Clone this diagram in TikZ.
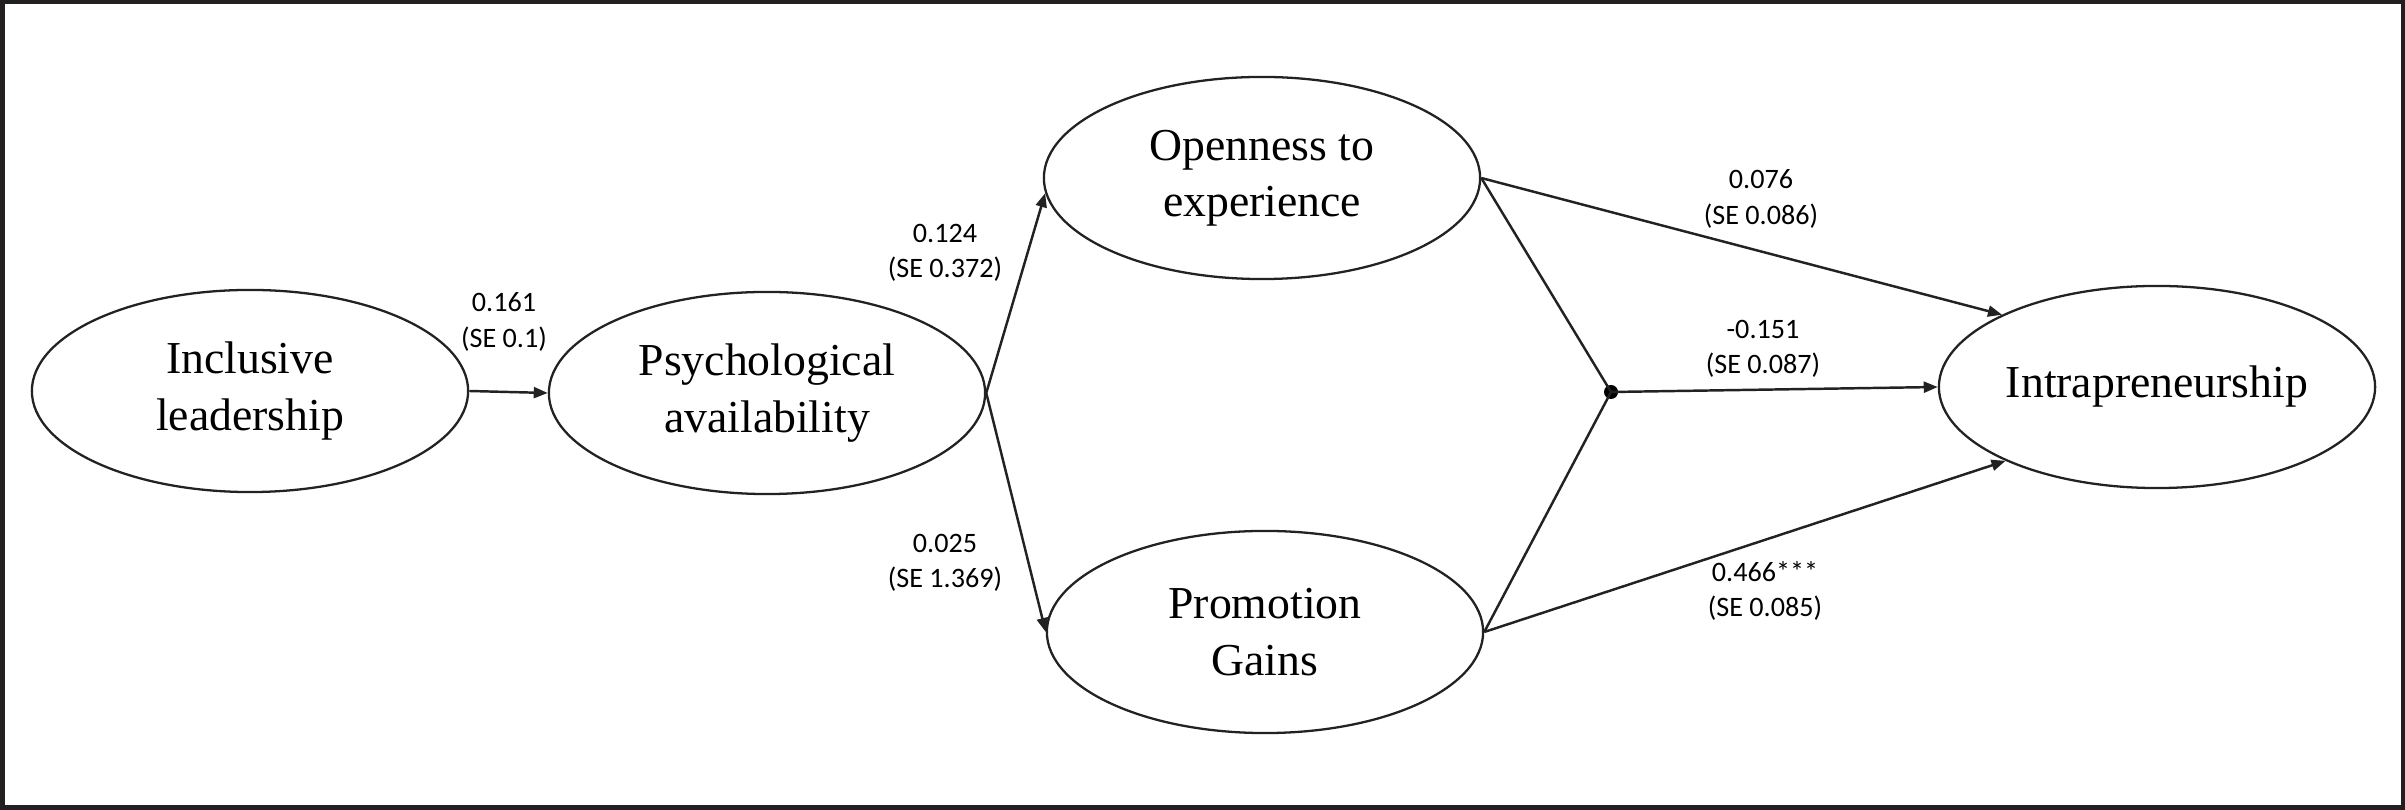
\documentclass[tikz,border=0pt]{standalone}
\usepackage{fontspec}
\setmainfont{Liberation Serif}
\newfontfamily\lblfont{Carlito}
\usetikzlibrary{arrows.meta,shapes.geometric}
\definecolor{framecol}{HTML}{231F20}
\definecolor{linecol}{HTML}{222222}
\begin{document}
\begin{tikzpicture}[x=0.01cm,y=-0.01cm,
  latent/.style={ellipse, draw=linecol, line width=0.65pt, minimum width=4.36cm, minimum height=2.02cm, inner sep=0pt, align=center, font=\fontsize{13}{16}\selectfont},
  coef/.style={align=center, font=\lblfont\fontsize{8}{10}\selectfont, inner sep=0pt},
  conn/.style={draw=linecol, line width=0.7pt},
  arr/.style={conn, -{Triangle[length=0.14cm,width=0.11cm]}}]
\useasboundingbox (0,0) rectangle (2405,810);
\draw[line width=0.045cm, draw=framecol] (2.25,2.25) rectangle (2402.75,807.75);
% latent variables
\node[latent] (incl)  at (250,391)  {Inclusive\\leadership};
\node[latent] (psych) at (767,393)  {Psychological\\availability};
\node[latent] (open)  at (1262,178) {Openness to\\experience};
\node[latent] (promo) at (1265,632) {Promotion\\Gains};
\node[latent] (intra) at (2157,387) {Intrapreneurship};
\node[circle, fill=black, inner sep=0pt, minimum size=0.14cm] (dot) at (1611,392) {};
% connectors
\draw[arr] (incl.east) -- (psych.west);
\draw[arr] (psych.east) -- (open.184);
\draw[arr] (psych.east) -- (promo.west);
\draw[arr] (open.east) -- (intra.155);
\draw[conn] (open.east) -- (dot.center);
\draw[conn] (promo.east) -- (dot.center);
\draw[arr] (dot.center) -- (intra.west);
\draw[arr] (promo.east) -- (intra.206);
% coefficients
\node[coef] (c1) at (504,322)  {0.161\\(SE 0.1)};
\node[coef] (c2) at (945,253)  {0.124\\(SE 0.372)};
\node[coef] (c3) at (945,563)  {0.025\\(SE 1.369)};
\node[coef] (c4) at (1761,199) {0.076\\(SE 0.086)};
\node[coef] (c5) at (1763,349) {-0.151\\(SE 0.087)};
\node[coef] (c6) at (1765,591) {0.466***\\(SE 0.085)};
\end{tikzpicture}
\end{document}
